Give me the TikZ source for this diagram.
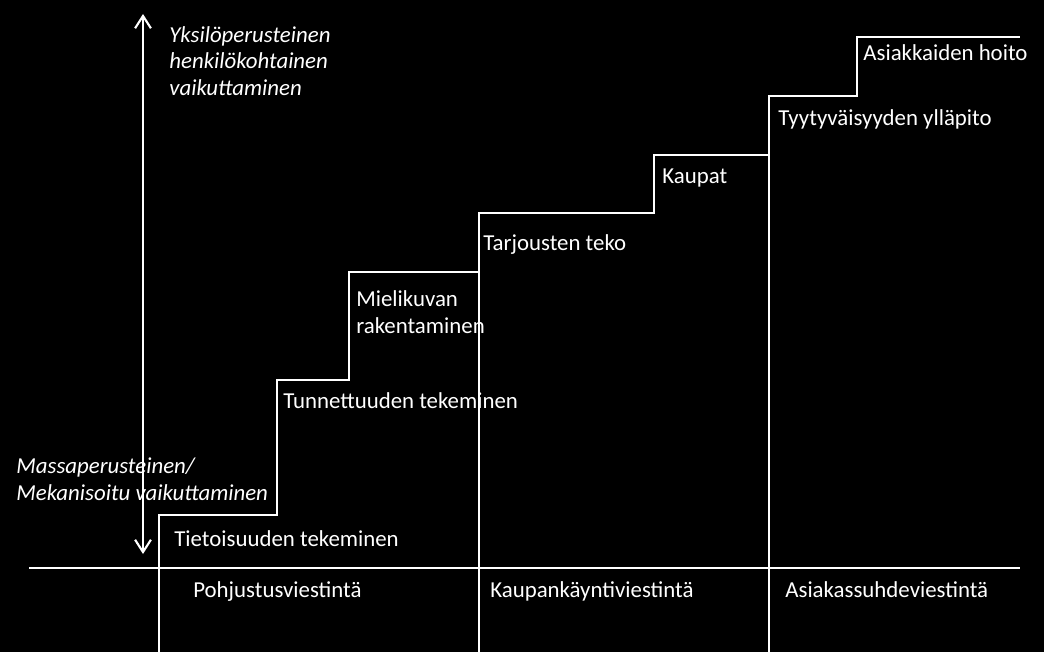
\documentclass[tikz,border=0pt]{standalone}
\usepackage{fontspec}
\setmainfont{Carlito}
\usetikzlibrary{arrows.meta}
\begin{document}
\begin{tikzpicture}[
    x=0.02cm, y=-0.02cm,
    line/.style={draw=white, line width=1.2pt},
    label/.style={text=white, inner sep=0pt, anchor=base west, align=left,
        font=\fontsize{13}{15}\selectfont},
    axislabel/.style={label, font=\fontsize{13}{15}\selectfont\itshape}
]
    % Background
    \fill[black] (0,0) rectangle (1044,652);
    \useasboundingbox (0,0) rectangle (1044,652);
    % Stair corners
    \coordinate (s0) at (159,652);
    \coordinate (s1) at (159,515);
    \coordinate (s2) at (277,515);
    \coordinate (s3) at (277,380);
    \coordinate (s4) at (349,380);
    \coordinate (s5) at (349,272);
    \coordinate (s6) at (479,272);
    \coordinate (s7) at (479,213);
    \coordinate (s8) at (654,213);
    \coordinate (s9) at (654,155);
    \coordinate (s10) at (769,155);
    \coordinate (s11) at (769,96);
    \coordinate (s12) at (857,96);
    \coordinate (s13) at (857,37);
    \coordinate (s14) at (1020,37);
    % Axis ends
    \coordinate (ax0) at (29,568);
    \coordinate (ax1) at (1020,568);
    \coordinate (up) at (143,14);
    \coordinate (down) at (143,554);
    \coordinate (sep1) at (479,652);
    \coordinate (sep2) at (769,652);
    % Staircase
    \draw[line] (s0) -- (s1) -- (s2) -- (s3) -- (s4) -- (s5) -- (s6) -- (s7)
        -- (s8) -- (s9) -- (s10) -- (s11) -- (s12) -- (s13) -- (s14);
    % Phase separators and base line
    \draw[line] (s7) -- (sep1);
    \draw[line] (s11) -- (sep2);
    \draw[line] (ax0) -- (ax1);
    % Scale arrow
    \draw[line, {Straight Barb[length=7pt,width=9pt]}-{Straight Barb[length=7pt,width=9pt]}] (down) -- (up);
    % Scale labels (placed at the last line's baseline)
    \node[axislabel] (personal) at (169,95) {Yksilöperusteinen\\henkilökohtainen\\vaikuttaminen};
    \node[axislabel] (mass) at (16,500) {Massaperusteinen/\\Mekanisoitu vaikuttaminen};
    % Step labels
    \node[label] (aware) at (174,546) {Tietoisuuden tekeminen};
    \node[label] (known) at (283,408) {Tunnettuuden tekeminen};
    \node[label] (image) at (356,333) {Mielikuvan\\rakentaminen};
    \node[label] (offers) at (483,250) {Tarjousten teko};
    \node[label] (deals) at (662,183) {Kaupat};
    \node[label] (satisf) at (778,126) {Tyytyväisyyden ylläpito};
    \node[label] (care) at (863,61) {Asiakkaiden hoito};
    % Phase labels
    \node[label] (prep) at (193,597) {Pohjustusviestintä};
    \node[label] (trade) at (490,597) {Kaupankäyntiviestintä};
    \node[label] (client) at (785,597) {Asiakassuhdeviestintä};
\end{tikzpicture}
\end{document}
